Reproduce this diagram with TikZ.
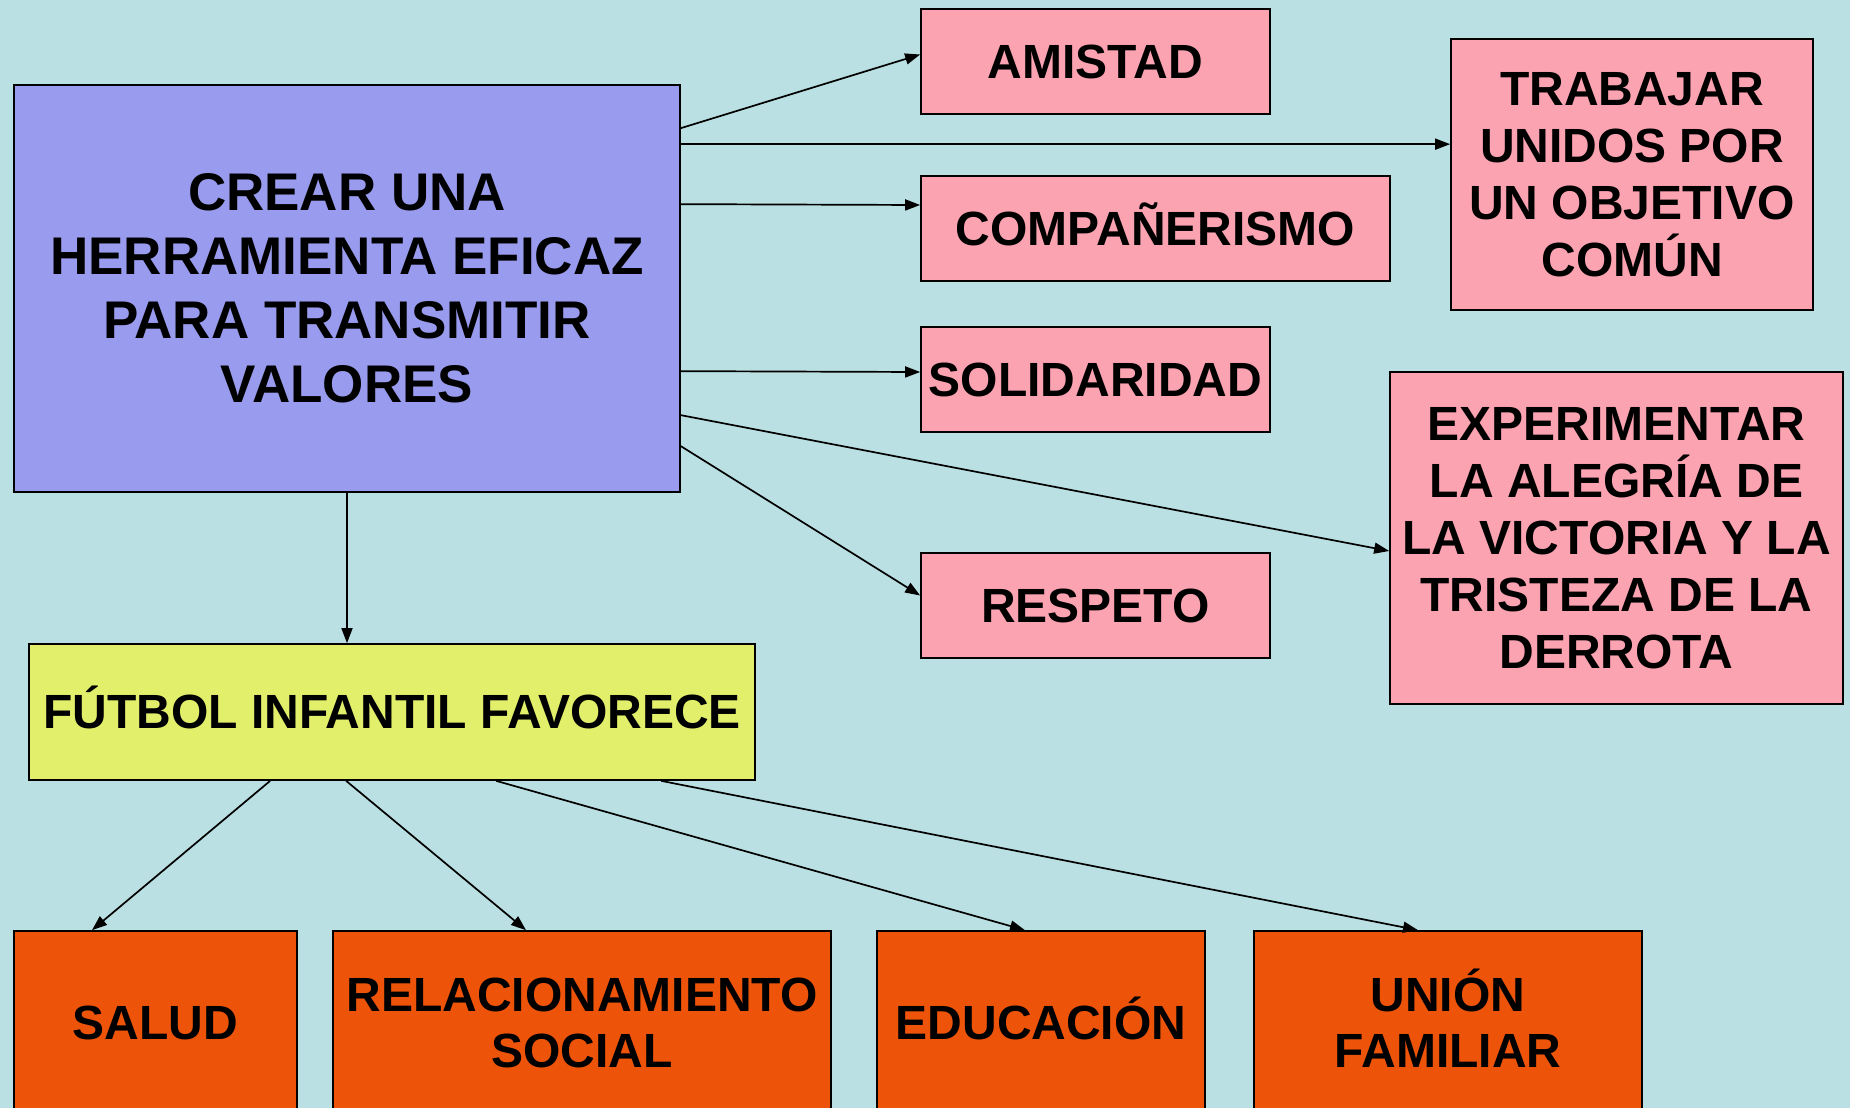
\documentclass[tikz,border=0pt]{standalone}
\usepackage{fontspec}
\setmainfont{Liberation Sans}
\usepackage{tikz}
\usetikzlibrary{arrows.meta, positioning}
\definecolor{bgcyan}{HTML}{BAE0E3}
\definecolor{lilac}{HTML}{999CEE}
\definecolor{rosa}{HTML}{FBA3B1}
\definecolor{lima}{HTML}{E2EF6B}
\definecolor{naranja}{HTML}{EE5409}

\begin{document}
\begin{tikzpicture}[x=1pt, y=-1pt,
    box/.style={draw=black, line width=1.7pt, inner sep=0pt, align=center,
      font=\fontsize{48}{57}\selectfont\bfseries},
    valor/.style={box, fill=rosa, minimum height=105pt},
    efecto/.style={box, fill=naranja, minimum height=184pt,
      font=\fontsize{48}{55.5}\selectfont\bfseries},
    arr/.style={line width=1.7pt, -{Triangle[length=15pt, width=11pt]}}]
    \useasboundingbox (0,0) rectangle (1850,1108);
    \clip (0,0) rectangle (1850,1108);
    \fill[bgcyan] (0,0) rectangle (1850,1108);

    % --- main goal ---
    \node[box, fill=lilac, minimum width=666pt, minimum height=407pt,
      font=\fontsize{53}{64}\selectfont\bfseries] (crear) at (347,288.5)
      {CREAR UNA\\HERRAMIENTA EFICAZ\\PARA TRANSMITIR\\VALORES};

    % --- values (pink) ---
    \node[valor, minimum width=349pt] (amistad) at (1095.5,61.5) {AMISTAD};
    \node[valor, minimum width=469pt] (compa) at (1155.5,228.5) {COMPA\smash{Ñ}ERISMO};
    \node[valor, minimum width=349pt] (solid) at (1095.5,379.5) {SOLIDARIDAD};
    \node[valor, minimum width=349pt] (respeto) at (1095.5,605.5) {RESPETO};
    \node[valor, minimum width=362pt, minimum height=271pt] (trabajar) at (1632,174.5)
      {TRABAJAR\\UNIDOS POR\\UN OBJETIVO\\COMÚN};
    \node[valor, minimum width=453pt, minimum height=332pt] (exper) at (1616.5,538)
      {EXPERIMENTAR\\LA ALEGRÍA DE\\LA VICTORIA Y LA\\TRISTEZA DE LA\\DERROTA};

    % --- football box ---
    \node[box, fill=lima, minimum width=726pt, minimum height=136pt] (futbol) at (392,712)
      {F\smash{Ú}TBOL INFANTIL FAVORECE};

    % --- effects (orange), cut by the bottom edge ---
    \node[efecto, minimum width=283pt] (salud) at (155.5,1023) {SALUD};
    \node[efecto, minimum width=498pt] (relac) at (582,1023) {RELACIONAMIENTO\\SOCIAL};
    \node[efecto, minimum width=328pt] (educ) at (1041,1023) {EDUCACI\smash{Ó}N};
    \node[efecto, minimum width=388pt] (union) at (1448,1023) {UNI\smash{Ó}N\\FAMILIAR};

    % --- arrows from the main box ---
    \draw[arr] ([yshift=-44pt]crear.north east) -- ([yshift=7pt]amistad.west);
    \draw[arr] ([yshift=-60pt]crear.north east) -- ([yshift=-106pt]trabajar.north west);
    \draw[arr] ([yshift=-120pt]crear.north east) -- ([yshift=23.5pt]compa.west);
    \draw[arr] ([yshift=-287pt]crear.north east) -- ([yshift=7.5pt]solid.west);
    \draw[arr] ([yshift=-331pt]crear.north east) -- ([yshift=-13pt]exper.west);
    \draw[arr] ([yshift=-362pt]crear.north east) -- ([yshift=10pt]respeto.west);
    \draw[arr] (crear.south) -- (crear.south |- futbol.north);

    % --- arrows from the football box ---
    \draw[arr] ([xshift=242pt]futbol.south west) -- ([xshift=-63.5pt]salud.north);
    \draw[arr] ([xshift=318pt]futbol.south west) -- ([xshift=-56pt]relac.north);
    \draw[arr] ([xshift=468pt]futbol.south west) -- ([xshift=-16pt]educ.north);
    \draw[arr] ([xshift=633pt]futbol.south west) -- ([xshift=-30pt]union.north);
  \end{tikzpicture}
\end{document}
